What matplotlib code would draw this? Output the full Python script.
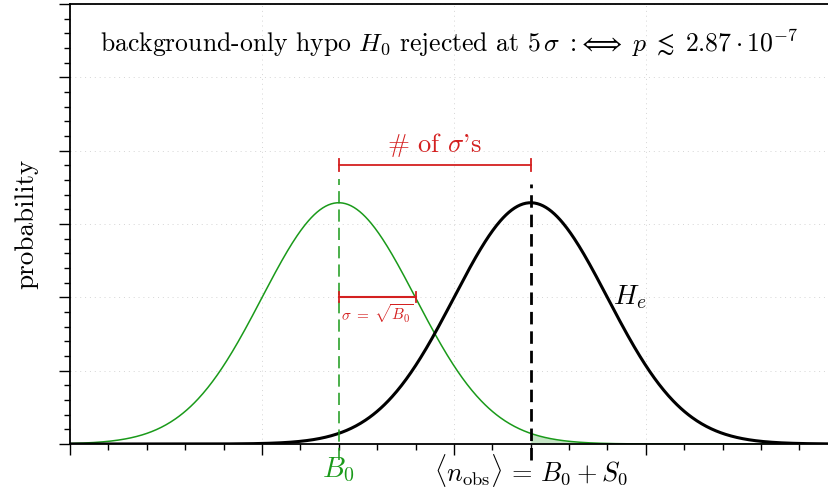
import numpy as np
import matplotlib
matplotlib.use("Agg")
import matplotlib.pyplot as plt

plt.rcParams["font.family"] = "serif"
plt.rcParams["font.serif"] = ["cmr10", "DejaVu Serif"]
plt.rcParams["mathtext.fontset"] = "cm"
plt.rcParams["axes.formatter.use_mathtext"] = True

# background expectation, signal, width and peak height of both hypotheses
B0 = 7.0
S0 = 5.0
sigma = 2.0
peak = 3.29
xlim = (0, 19.77)
ylim = (0, 6)

green = "#1a9a1a"
red = "#d42020"

x = np.linspace(xlim[0], xlim[1], 800)
bg = peak * np.exp(-0.5 * ((x - B0) / sigma) ** 2)
sig = peak * np.exp(-0.5 * ((x - (B0 + S0)) / sigma) ** 2)

fig = plt.figure(figsize=(8.29, 4.94), dpi=100)
ax = fig.add_axes([70 / 829, 50 / 494, 759 / 829, 440 / 494])

ax.plot(x, bg, color=green, lw=1.1)
ax.plot(x, sig, color="black", lw=2.2)

# right tail of the background beyond the observed count
tail = x >= B0 + S0
ax.fill_between(x[tail], 0, bg[tail], color=green, alpha=0.25, lw=0)

# vertical markers at B0 and B0+S0
ax.plot([B0, B0], [-0.22, 3.62], color=green, lw=1.1, ls=(0, (8, 4)), clip_on=False)
ax.plot([B0 + S0, B0 + S0], [-0.22, 3.55], color="black", lw=2.0, ls=(0, (4.5, 2.5)), clip_on=False)

# distance between the hypotheses
ax.plot([B0, B0 + S0], [3.8, 3.8], color=red, lw=1.3)
for xc in (B0, B0 + S0):
    ax.plot([xc, xc], [3.72, 3.88], color=red, lw=1.3)
ax.text(B0 + S0 / 2, 3.88, r"$\#$ of $\sigma$'s", color=red, fontsize=19, ha="center", va="bottom")

# one sigma width
ax.plot([B0, B0 + sigma], [2.0, 2.0], color=red, lw=1.5)
for xc in (B0, B0 + sigma):
    ax.plot([xc, xc], [1.93, 2.07], color=red, lw=1.3)
ax.text(B0 + sigma / 2, 1.93, r"$\sigma\;=\;\sqrt{B_0}$", color=red, fontsize=11, ha="center", va="top")

ax.text(14.15, 2.0, r"$H_e$", fontsize=20, ha="left", va="center")

ax.text(0.5, 0.91,
        r"background-only hypo $H_0$ rejected at $5\,\sigma\; :\!\Longleftrightarrow\; p\; \lesssim\; 2.87\cdot 10^{-7}$",
        transform=ax.transAxes, fontsize=18.5, ha="center", va="center")

ax.text(B0, -0.36, r"$B_0$", color=green, fontsize=20.5, ha="center", va="center", clip_on=False)
ax.text(B0 + S0, -0.36, r"$\langle n_{\rm obs}\rangle \,=\, B_0 + S_0$", fontsize=19,
        ha="center", va="center", clip_on=False)

ax.set_xlim(*xlim)
ax.set_ylim(*ylim)
ax.set_xticks(np.arange(0, 20, 5))
ax.set_xticks(np.arange(0, 20, 1), minor=True)
ax.set_yticks(np.arange(0, 7, 1))
ax.set_yticks(np.arange(0, 6.01, 0.2), minor=True)
ax.set_xticklabels([])
ax.set_yticklabels([])
ax.tick_params(which="major", length=8, width=1.0, direction="out")
ax.tick_params(which="minor", length=4, width=1.0, direction="out")
ax.grid(True, which="major", ls=(0, (1, 4)), color="#d5d5d5", lw=0.7)
ax.spines["right"].set_visible(False)
for s in ("left", "top", "bottom"):
    ax.spines[s].set_linewidth(1.3)

ax.set_ylabel("probability", fontsize=19.5, labelpad=11)

fig.savefig("out.png", dpi=100)
